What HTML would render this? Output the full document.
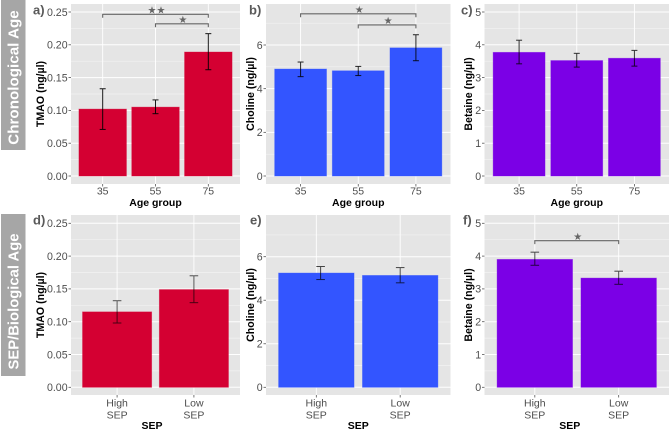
<!DOCTYPE html>
<html lang="en">
<head>
<meta charset="utf-8">
<title>TMAO, Choline and Betaine by Age group and SEP</title>
<style>
html,body{margin:0;padding:0;background:#fff;width:669px;height:431px;overflow:hidden}
svg{display:block;font-family:"Liberation Sans",sans-serif}
</style>
</head>
<body>
<svg id="chart" xmlns="http://www.w3.org/2000/svg" width="669" height="431" viewBox="0 0 669 431">
  <rect x="1" y="0" width="24.5" height="150" fill="#a6a6a6"/>
  <text transform="translate(18.5,77.5) rotate(-90)" text-anchor="middle" font-size="15.2" font-weight="bold" fill="#fff">Chronological Age</text>
  <rect x="1" y="214" width="24.5" height="162" fill="#a6a6a6"/>
  <text transform="translate(18.5,301.5) rotate(-90)" text-anchor="middle" font-size="14.8" font-weight="bold" fill="#fff">SEP/Biological Age</text>
</svg>
<script>
// Categories
const ageCategories = ["35", "55", "75"];
const sepCategories = ["High SEP", "Low SEP"];

// Y tick labels
const tmaoTicks = [0, 0.05, 0.10, 0.15, 0.20, 0.25];
const cholineTicks = [0, 2, 4, 6];
const betaineTicks = [0, 1, 2, 3, 4, 5];

// Panel a: TMAO by age
const tmaoAgeValues = [0.102, 0.105, 0.189];
const tmaoAgeLow = [0.071, 0.095, 0.162];
const tmaoAgeHigh = [0.133, 0.116, 0.217];

// Panel b: Choline by age
const cholineAgeValues = [4.90, 4.82, 5.87];
const cholineAgeLow = [4.55, 4.60, 5.28];
const cholineAgeHigh = [5.22, 5.02, 6.47];

// Panel c: Betaine by age
const betaineAgeValues = [3.77, 3.52, 3.59];
const betaineAgeLow = [3.42, 3.32, 3.35];
const betaineAgeHigh = [4.14, 3.74, 3.83];

// Panel d: TMAO by SEP
const tmaoSepValues = [0.115, 0.149];
const tmaoSepLow = [0.098, 0.129];
const tmaoSepHigh = [0.132, 0.170];

// Panel e: Choline by SEP
const cholineSepValues = [5.25, 5.14];
const cholineSepLow = [4.95, 4.80];
const cholineSepHigh = [5.55, 5.50];

// Panel f: Betaine by SEP
const betaineSepValues = [3.90, 3.33];
const betaineSepLow = [3.72, 3.14];
const betaineSepHigh = [4.12, 3.54];

// Significance brackets: category index from, category index to, data level, stars
const tmaoAgeBrackets = [[0, 2, 0.2465, "★★"], [1, 2, 0.232, "★"]];
const cholineAgeBrackets = [[0, 2, 7.43, "★"], [1, 2, 6.92, "★"]];
const betaineSepBrackets = [[0, 1, 4.47, "★"]];

const SVG_NS = "http://www.w3.org/2000/svg";
const svg = document.getElementById("chart");
const RED = "#d40032";
const BLUE = "#3355ff";
const PURPLE = "#7b00e6";

function make(tag, parent, attrs) {
  const el = document.createElementNS(SVG_NS, tag);
  for (const k in attrs) el.setAttribute(k, attrs[k]);
  parent.appendChild(el);
  return el;
}

function drawPanel(cfg) {
  const g = make("g", svg, {});
  
  

  const yScale = function (v) {
    return cfg.zeroY - (v / cfg.topTick) * (cfg.zeroY - cfg.topTickY);
  };
  const n = cfg.categories.length;
  const step = (cfg.right - cfg.left) / (n + 0.2);
  const xScale = function (i) {
    return cfg.left + step * (0.6 + i);
  };

  const bg = make("rect", g, { x: cfg.left, y: cfg.top, width: cfg.right - cfg.left, height: cfg.bottom - cfg.top, fill: "#e5e5e5" });
  
  

  // Minor gridlines
  const tickGap = cfg.ticks[1] - cfg.ticks[0];
  cfg.ticks.forEach(function (t) {
    const yMinor = yScale(t + tickGap / 2);
    if (yMinor < cfg.top) return;
    const minor = make("line", g, { x1: cfg.left, x2: cfg.right, y1: yMinor, y2: yMinor, stroke: "#f2f2f2", "stroke-width": 0.7 });
    
    
  });

  // Major gridlines, ticks and labels on the y axis
  cfg.ticks.forEach(function (t) {
    const y = yScale(t);
    const grid = make("line", g, { x1: cfg.left, x2: cfg.right, y1: y, y2: y, stroke: "#fff", "stroke-width": 1 });
    
    
    const mark = make("line", g, { x1: cfg.left - 2.5, x2: cfg.left, y1: y, y2: y, stroke: "#555", "stroke-width": 0.8 });
    
    
    const label = make("text", g, { x: cfg.left - 3.4, y: y + 3.8, "text-anchor": "end", "font-size": 10.6, fill: "#4d4d4d" });
    
    
    label.textContent = cfg.tickDigits ? t.toFixed(cfg.tickDigits) : String(t);
  });

  // Category gridlines, ticks and labels
  cfg.categories.forEach(function (c, i) {
    const x = xScale(i);
    const grid = make("line", g, { x1: x, x2: x, y1: cfg.top, y2: cfg.bottom, stroke: "#fff", "stroke-width": 0.9 });
    
    
    const mark = make("line", g, { x1: x, x2: x, y1: cfg.bottom, y2: cfg.bottom + 2.5, stroke: "#555", "stroke-width": 0.8 });
    
    
    const parts = c.split(" ");
    const label = make("text", g, { "text-anchor": "middle", "font-size": 10.5, fill: "#4d4d4d" });
    
    
    parts.forEach(function (p, k) {
      const span = make("tspan", label, { x: x, y: cfg.bottom + cfg.xLabelGap + k * 12 });
      span.textContent = p;
    });
  });

  // Bars
  cfg.values.forEach(function (v, i) {
    const w = step * 0.9;
    const bar = make("rect", g, { x: xScale(i) - w / 2, y: yScale(v), width: w, height: yScale(0) - yScale(v), fill: cfg.color, stroke: cfg.color, "stroke-opacity": 0.45, "stroke-width": 0.8 });
    
    
  });

  // Error bars
  cfg.values.forEach(function (v, i) {
    const x = xScale(i) + (i === 0 ? (cfg.firstErrorShift || 0) : 0);
    const err = make("g", g, { stroke: "#000", "stroke-width": 1, opacity: cfg.errorOpacity, fill: "none" });
    
    
    const yLow = yScale(cfg.low[i]);
    const yHigh = yScale(cfg.high[i]);
    make("line", err, { x1: x, x2: x, y1: yLow, y2: yHigh });
    make("line", err, { x1: x - cfg.capHalf, x2: x + cfg.capHalf, y1: yLow, y2: yLow });
    make("line", err, { x1: x - cfg.capHalf, x2: x + cfg.capHalf, y1: yHigh, y2: yHigh });
  });

  // Significance brackets
  cfg.brackets.forEach(function (b) {
    const x1 = xScale(b[0]);
    const x2 = xScale(b[1]);
    const y = yScale(b[2]);
    const path = make("path", g, { d: "M" + x1 + " " + (y + 3.5) + "V" + y + "H" + x2 + "V" + (y + 3.5), fill: "none", stroke: "#666", "stroke-width": 1.1 });
    
    
    const star = make("text", g, { x: (x1 + x2) / 2 + 1, y: y - 0.8, "text-anchor": "middle", "font-size": 10, fill: "#666", "font-family": "DejaVu Sans, sans-serif" });
    
    
    star.textContent = b[3];
  });

  // Axis titles and panel letter
  const xTitle = make("text", g, { x: (cfg.left + cfg.right) / 2 + (cfg.xTitleShift || 0), y: cfg.xTitleY, "text-anchor": "middle", "font-size": 10.5, "font-weight": "bold", fill: "#000" });
  
  
  xTitle.textContent = cfg.xTitle;

  const yMid = (cfg.top + cfg.bottom) / 2;
  const yTitle = make("text", g, { transform: "translate(" + cfg.yTitleX + "," + yMid + ") rotate(-90)", "text-anchor": "middle", "font-size": 10.6, "font-weight": "bold", fill: "#000" });
  
  
  yTitle.textContent = cfg.yTitle;

  const letter = make("text", g, { x: cfg.letterX, y: cfg.letterY, "font-size": 13, "font-weight": "bold", fill: "#595959" });
  
  
  letter.textContent = cfg.id + ")";
}

const topRow = { top: 4, bottom: 184, zeroY: 176, xTitleY: 206, xLabelGap: 10.5, capHalf: 3, letterY: 14.5, brackets: [] };
const bottomRow = { top: 215, bottom: 395, zeroY: 387.3, xTitleY: 429, xLabelGap: 11.5, capHalf: 4.3, letterY: 224.5, brackets: [] };

drawPanel(Object.assign({}, topRow, {
  id: "a", left: 71, right: 240, topTick: 0.25, topTickY: 12, ticks: tmaoTicks, tickDigits: 2,
  categories: ageCategories, values: tmaoAgeValues, low: tmaoAgeLow, high: tmaoAgeHigh, color: RED,
  brackets: tmaoAgeBrackets, errorOpacity: 0.9, xTitle: "Age group", yTitle: "TMAO (ng/µl)", letterX: 33, yTitleX: 44
}));
drawPanel(Object.assign({}, topRow, {
  id: "b", left: 266, right: 450.5, topTick: 6, topTickY: 45, ticks: cholineTicks, tickDigits: 0,
  categories: ageCategories, values: cholineAgeValues, low: cholineAgeLow, high: cholineAgeHigh, color: BLUE,
  brackets: cholineAgeBrackets, errorOpacity: 0.85, xTitle: "Age group", yTitle: "Choline (ng/µl)", letterX: 249, yTitleX: 254
}));
drawPanel(Object.assign({}, topRow, {
  id: "c", left: 484.5, right: 669, topTick: 5, topTickY: 12, ticks: betaineTicks, tickDigits: 0,
  categories: ageCategories, values: betaineAgeValues, low: betaineAgeLow, high: betaineAgeHigh, color: PURPLE,
  brackets: [], errorOpacity: 0.8, xTitle: "Age group", yTitle: "Betaine (ng/µl)", letterX: 461, yTitleX: 472
}));
drawPanel(Object.assign({}, bottomRow, {
  id: "d", left: 71, right: 240, topTick: 0.25, topTickY: 223.3, ticks: tmaoTicks, tickDigits: 2,
  categories: sepCategories, values: tmaoSepValues, low: tmaoSepLow, high: tmaoSepHigh, color: RED,
  brackets: [], errorOpacity: 0.65, xTitle: "SEP", xTitleShift: -3.5, yTitle: "TMAO (ng/µl)", letterX: 33, yTitleX: 44
}));
drawPanel(Object.assign({}, bottomRow, {
  id: "e", left: 266, right: 450.5, topTick: 6, topTickY: 256.7, ticks: cholineTicks, tickDigits: 0,
  categories: sepCategories, values: cholineSepValues, low: cholineSepLow, high: cholineSepHigh, color: BLUE,
  brackets: [], errorOpacity: 0.7, firstErrorShift: 4.3, xTitle: "SEP", yTitle: "Choline (ng/µl)", letterX: 250, yTitleX: 254
}));
drawPanel(Object.assign({}, bottomRow, {
  id: "f", left: 484.5, right: 669, topTick: 5, topTickY: 223.3, ticks: betaineTicks, tickDigits: 0,
  categories: sepCategories, values: betaineSepValues, low: betaineSepLow, high: betaineSepHigh, color: PURPLE,
  brackets: betaineSepBrackets, errorOpacity: 0.7, xTitle: "SEP", xTitleShift: -7, yTitle: "Betaine (ng/µl)", letterX: 463, yTitleX: 472
}));
</script>
</body>
</html>
